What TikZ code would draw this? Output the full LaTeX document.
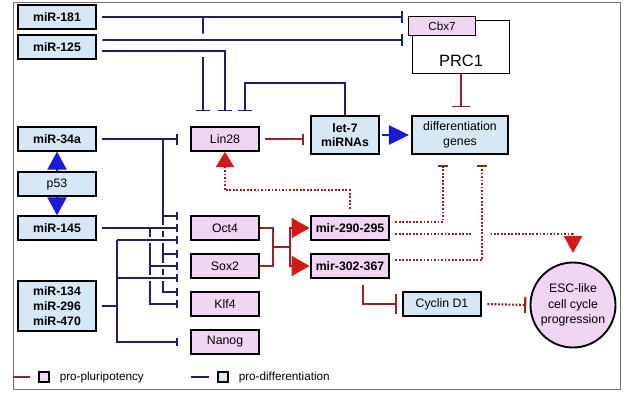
\documentclass[tikz,border=0pt]{standalone}
\usepackage{fontspec}
\setmainfont{Liberation Sans}
\usetikzlibrary{arrows.meta, positioning}

\definecolor{pluripink}{RGB}{240,214,242}
\definecolor{diffblue}{RGB}{214,232,246}
\definecolor{navyline}{RGB}{32,32,105}
\definecolor{darkred}{RGB}{150,35,35}
\definecolor{tipred}{RGB}{212,25,25}
\definecolor{tipblue}{RGB}{25,25,215}

\tikzset{
   box/.style = {%
    shape=rectangle,
    draw=black,
    line width=1.8pt,
    align=center,
    inner sep=1pt,
    font=\fontsize{10.5}{12.5}\selectfont},
   diffbox/.style = {box, fill=diffblue, minimum width=2.36cm, minimum height=0.7cm},
   mirbox/.style = {diffbox, font=\bfseries\fontsize{10.5}{12.5}\selectfont},
   genebox/.style = {box, fill=pluripink, minimum width=2.03cm, minimum height=0.7cm},
   clusterbox/.style = {genebox, minimum width=2.36cm, font=\bfseries\fontsize{10.5}{12.5}\selectfont},
   prcbox/.style = {draw=black, fill=white, line width=1.4pt, minimum width=2.9cm, minimum height=1.58cm},
   cbxbox/.style = {box, fill=pluripink, line width=1.1pt, minimum width=2.0cm, minimum height=0.58cm, font=\fontsize{10}{12}\selectfont},
   escnode/.style = {circle, draw=black, line width=1.6pt, fill=pluripink, minimum size=2.55cm,
    inner sep=0pt, align=center, font=\fontsize{10.5}{13}\selectfont},
   frame/.style = {draw=black!55, line width=0.8pt},
 % connectors
   hub/.style = {draw=navyline, line width=1.5pt},
   inh/.style = {hub, -{Bar[width=#1]}},% <-- bar length
   inh/.default = 3.3mm,
   redline/.style = {draw=darkred, line width=1.5pt},
   redinh/.style = {redline, -{Bar[width=#1]}},
   redinh/.default = 3.3mm,
   redact/.style = {redline, -{Triangle[length=5.4mm, width=6mm, color=tipred]}},
   blueact/.style = {draw=tipblue, line width=1pt, -{Triangle[length=#1, width=5.8mm, color=tipblue]}},
   blueact/.default = 5.4mm,
   dotline/.style = {draw=darkred, line width=1.8pt, dash pattern=on 1.6pt off 1.4pt},
   frombox/.style = {shorten <=1.5mm},
   bridge/.style = {preaction={draw=white, line width=#1, -, solid, shorten <=2pt}},
   bridge/.default = 5pt,
   legbox/.style = {draw=black, line width=1.2pt, minimum size=0.3cm, inner sep=0pt},
   legtext/.style = {inner sep=1pt, font=\fontsize{10}{12}\selectfont},
}

\begin{document}
\begin{tikzpicture}[x=0.03cm, y=-0.03cm]
    \useasboundingbox (0,0) rectangle (625,392);
    \draw[frame] (13,2) rectangle (620,389);

    % microRNAs and p53
    \node[mirbox] (miR181) at (57,17) {miR-181};
    \node[mirbox] (miR125) at (57,47) {miR-125};
    \node[mirbox] (miR34a) at (57,139) {miR-34a};
    \node[diffbox] (p53) at (57,184) {p53};
    \node[mirbox] (miR145) at (57,228) {miR-145};
    \node[mirbox, minimum height=1.52cm] (miRgrp) at (57,306) {miR-134\\miR-296\\miR-470};

    % pluripotency factors
    \node[genebox] (lin28) at (225,139) {Lin28};
    \node[genebox] (oct4) at (225,228) {Oct4};
    \node[genebox] (sox2) at (225,266) {Sox2};
    \node[genebox] (klf4) at (225,304) {Klf4};
    \node[genebox] (nanog) at (225,342) {Nanog};

    \node[mirbox, minimum width=2.03cm, minimum height=1.12cm] (let7) at (345,135) {let-7\\miRNAs};
    \node[diffbox, minimum width=2.9cm, minimum height=1.12cm] (diff) at (460,135) {differentiation\\genes};
    \node[prcbox] (prc1) at (461,47) {};
    \node[font=\fontsize{14}{16}\selectfont] (prc1txt) at ([yshift=-4.3mm]prc1.center) {PRC1};
    \node[cbxbox] (cbx7) at (442,26) {Cbx7};

    \node[clusterbox] (mir290) at (350,228) {mir-290-295};
    \node[clusterbox] (mir302) at (350,266) {mir-302-367};
    \node[diffbox] (cyclin) at (442,304) {Cyclin D1};
    \node[escnode] (esc) at (573,305) {ESC-like\\cell cycle\\progression};

    % bar positions
    \coordinate (c1) at ([xshift=-1.5mm]cbx7.west |- miR181.east);
    \coordinate (c2) at ([shift={(-5,14)}]cbx7.west);
    \coordinate (lt1) at ([shift={(-22,-15)}]lin28.north);
    \coordinate (lt2) at ([shift={(0,-15)}]lin28.north);
    \coordinate (lt3) at ([shift={(20,-15)}]lin28.north);
    \coordinate (o1) at ([shift={(-12,-12)}]oct4.west);
    \coordinate (o2) at ([shift={(-12,0)}]oct4.west);
    \coordinate (o3) at ([shift={(-12,12)}]oct4.west);
    \coordinate (s1) at ([shift={(-12,-12)}]sox2.west);
    \coordinate (s2) at ([shift={(-12,0)}]sox2.west);
    \coordinate (s3) at ([shift={(-12,12)}]sox2.west);
    \coordinate (k1) at ([shift={(-12,-12)}]klf4.west);
    \coordinate (k2) at ([shift={(-12,0)}]klf4.west);
    \coordinate (ng) at ([shift={(-12,0)}]nanog.west);
    \coordinate (dg1) at ([shift={(-17,10)}]diff.south);
    \coordinate (dg2) at ([shift={(22,10)}]diff.south);
    \coordinate (bus34) at (163,0);
    \coordinate (bus145) at (150,0);
    \coordinate (bus134) at (117,0);

    % miR-181 and miR-125
    \draw[inh=3.6mm, frombox] (miR181.east) -- (c1);
    \draw[inh=4.2mm] (lt1 |- miR181.east) -- (lt1);
    \draw[inh=3.6mm, frombox, bridge=11pt] ([yshift=2.1mm]miR125.east) -- (c2);
    \draw[inh=4.2mm, frombox, bridge=11pt] ([yshift=-1.2mm]miR125.east) -| (lt2);
    \draw[inh=4.2mm] (let7.north) -- ++(0,-32) -| (lt3);

    % p53
    \draw[blueact] (p53.north) -- (miR34a.south);
    \draw[blueact] (p53.south) -- (miR145.north);

    % miR-34a
    \draw[inh, frombox, shorten >=3.6mm] (miR34a.east) -- (lin28.west);
    \draw[inh=2.4mm] (bus34 |- miR34a.east) |- (k1);
    \draw[inh=2.4mm] (bus34 |- o1) -- (o1);
    \draw[inh=2.4mm] (bus34 |- s1) -- (s1);

    % miR-145
    \draw[inh=2.4mm, frombox, bridge] (miR145.east) -- (o2);
    \draw[inh=2.4mm] (bus145 |- o2) |- (k2);
    \draw[inh=2.4mm, bridge] (bus145 |- s2) -- (s2);

    % miR-134, miR-296, miR-470
    \draw[hub, frombox] (miRgrp.east) -- (bus134 |- miRgrp.east);
    \draw[inh=2.4mm] (bus134 |- o3) |- (ng);
    \draw[inh=2.4mm, bridge] (bus134 |- o3) -- (o3);
    \draw[inh=2.4mm, bridge] (bus134 |- s3) -- (s3);

    % Lin28, let-7, PRC1
    \draw[redinh, frombox, shorten >=1.8mm] (lin28.east) -- (let7.west |- lin28.east);
    \draw[blueact=6mm, shorten <=0.5mm, shorten >=0.5mm] (let7.east) -- (diff.west);
    \draw[redinh=5.4mm, shorten >=2.4mm] (prc1.south) -- (prc1.south |- diff.north);

    % Oct4 and Sox2 drive the ES cell clusters
    \coordinate (jn) at ([xshift=4mm]oct4.east |- 0,247);
    \coordinate (fork) at (290,247);
    \draw[redline] (oct4.east) -| (jn);
    \draw[redline] (sox2.east) -| (jn) -- (fork);
    \draw[redact] (fork) |- (mir290.west);
    \draw[redact] (fork) |- (mir302.west);

    % dotted links
    \draw[dotline, shorten <=2mm, -{Triangle[length=4.6mm, width=5.4mm, color=tipred]}]
        (mir290.north) -- ++(0,-25) -| (lin28.south);
    \draw[dotline, frombox, -{Bar[width=3mm]}] ([yshift=1.8mm]mir290.east) -| (dg1);
    \draw[dotline, frombox, shorten >=2.6mm, -{Triangle[length=5mm, width=5.4mm, color=tipred]}]
        ([yshift=-1.8mm]mir290.east) -| (esc.north);
    \draw[dotline, frombox, bridge=16pt, -{Bar[width=3mm]}] ([yshift=1.8mm]mir302.east) -| (dg2);

    % Cyclin D1
    \draw[redinh=6mm, shorten <=1.8mm, shorten >=1.5mm] ([xshift=3.9mm]mir302.south) |- (cyclin.west);
    \draw[dotline, frombox, shorten >=1mm, -{Bar[width=4.8mm]}] (cyclin.east) -- (esc.west);

    % legend
    \node[legbox, fill=pluripink] (legpp) at (44,377) {};
    \node[legtext, right=2.6mm of legpp] (legpptext) {pro-pluripotency};
    \coordinate (legr) at (13,377);
    \draw[redline, shorten >=2.6mm] (legr) -- (legpp.west);
    \node[legbox, fill=diffblue] (legpd) at (223,377) {};
    \node[legtext, right=2.6mm of legpd] (legpdtext) {pro-differentiation};
    \coordinate (legb) at (191,377);
    \draw[hub, shorten >=2.6mm] (legb) -- (legpd.west);
\end{tikzpicture}
\end{document}
